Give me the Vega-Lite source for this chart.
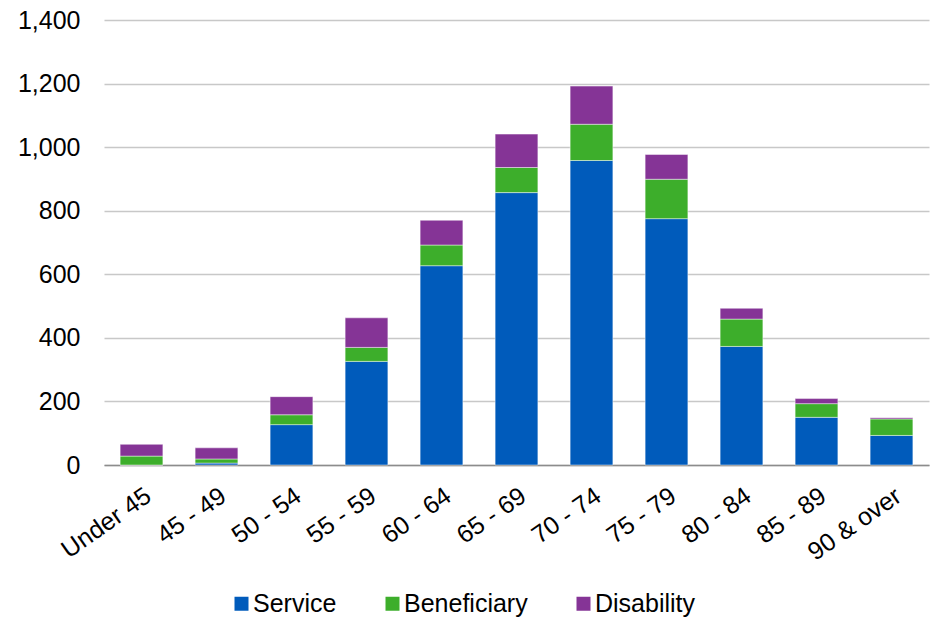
{
  "$schema": "https://vega.github.io/schema/vega-lite/v6.json",
  "width": 825,
  "height": 445,
  "autosize": "none",
  "padding": {"left": 104, "top": 20, "right": 4, "bottom": 156},
  "background": "#ffffff",
  "data": {
    "values": [
      {"age": "Under 45", "type": "Service", "count": 0},
      {"age": "Under 45", "type": "Beneficiary", "count": 28},
      {"age": "Under 45", "type": "Disability", "count": 37},
      {"age": "45 - 49", "type": "Service", "count": 6},
      {"age": "45 - 49", "type": "Beneficiary", "count": 13},
      {"age": "45 - 49", "type": "Disability", "count": 35},
      {"age": "50 - 54", "type": "Service", "count": 127},
      {"age": "50 - 54", "type": "Beneficiary", "count": 31},
      {"age": "50 - 54", "type": "Disability", "count": 57},
      {"age": "55 - 59", "type": "Service", "count": 326},
      {"age": "55 - 59", "type": "Beneficiary", "count": 44},
      {"age": "55 - 59", "type": "Disability", "count": 93},
      {"age": "60 - 64", "type": "Service", "count": 627},
      {"age": "60 - 64", "type": "Beneficiary", "count": 65},
      {"age": "60 - 64", "type": "Disability", "count": 78},
      {"age": "65 - 69", "type": "Service", "count": 857},
      {"age": "65 - 69", "type": "Beneficiary", "count": 79},
      {"age": "65 - 69", "type": "Disability", "count": 105},
      {"age": "70 - 74", "type": "Service", "count": 958},
      {"age": "70 - 74", "type": "Beneficiary", "count": 114},
      {"age": "70 - 74", "type": "Disability", "count": 120},
      {"age": "75 - 79", "type": "Service", "count": 775},
      {"age": "75 - 79", "type": "Beneficiary", "count": 124},
      {"age": "75 - 79", "type": "Disability", "count": 78},
      {"age": "80 - 84", "type": "Service", "count": 373},
      {"age": "80 - 84", "type": "Beneficiary", "count": 86},
      {"age": "80 - 84", "type": "Disability", "count": 34},
      {"age": "85 - 89", "type": "Service", "count": 150},
      {"age": "85 - 89", "type": "Beneficiary", "count": 43},
      {"age": "85 - 89", "type": "Disability", "count": 16},
      {"age": "90 & over", "type": "Service", "count": 93},
      {"age": "90 & over", "type": "Beneficiary", "count": 52},
      {"age": "90 & over", "type": "Disability", "count": 4}
    ]
  },
  "transform": [
    {"calculate": "indexof(['Service','Beneficiary','Disability'], datum.type)", "as": "rank"}
  ],
  "mark": {"type": "bar", "stroke": "#ffffff", "strokeOpacity": 0.45, "strokeWidth": 1},
  "encoding": {
    "x": {
      "field": "age",
      "type": "nominal",
      "sort": null,
      "scale": {"paddingInner": 0.43, "paddingOuter": 0.215},
      "axis": {
        "title": null,
        "labelAngle": -35,
        "labelFontSize": 25,
        "labelFont": "Liberation Sans",
        "labelColor": "#000000",
        "ticks": false,
        "labelPadding": 18,
        "labelDx": -6,
        "domainColor": "#8c8c8c",
        "domainWidth": 1.5
      }
    },
    "y": {
      "field": "count",
      "type": "quantitative",
      "aggregate": "sum",
      "stack": "zero",
      "scale": {"domain": [0, 1400], "nice": false},
      "axis": {
        "title": null,
        "values": [0, 200, 400, 600, 800, 1000, 1200, 1400],
        "format": ",d",
        "labelFontSize": 25,
        "labelFont": "Liberation Sans",
        "labelColor": "#000000",
        "ticks": false,
        "domain": false,
        "labelPadding": 24,
        "gridColor": "#c8c8c8",
        "gridWidth": 1.5
      }
    },
    "color": {
      "field": "type",
      "type": "nominal",
      "sort": ["Service", "Beneficiary", "Disability"],
      "scale": {
        "domain": ["Service", "Beneficiary", "Disability"],
        "range": ["#005BBB", "#3DAE2B", "#853496"]
      },
      "legend": {
        "title": null,
        "orient": "none",
        "legendX": 125,
        "legendY": 571,
        "direction": "horizontal",
        "symbolType": "square",
        "symbolSize": 196,
        "symbolStrokeWidth": 0,
        "labelFontSize": 25,
        "labelFont": "Liberation Sans",
        "labelColor": "#000000",
        "labelOffset": -1,
        "columnPadding": 43
      }
    },
    "order": {"field": "rank", "type": "quantitative", "sort": "ascending"}
  },
  "config": {"view": {"stroke": null}}
}
